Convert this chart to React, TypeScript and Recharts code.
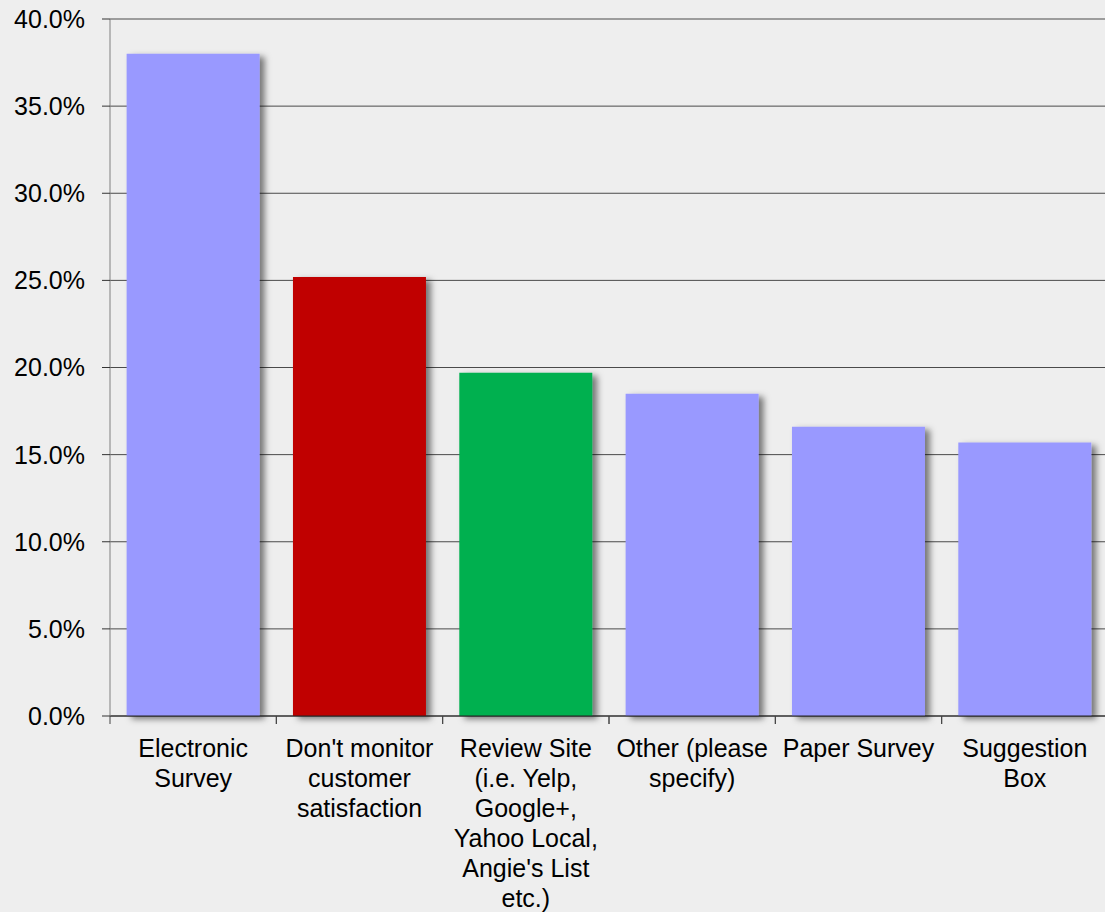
import { Bar, BarChart, CartesianGrid, Cell, Rectangle, XAxis, YAxis } from "recharts";

const categories = [
  "Electronic\nSurvey",
  "Don't monitor\ncustomer\nsatisfaction",
  "Review Site\n(i.e. Yelp,\nGoogle+,\nYahoo Local,\nAngie's List\netc.)",
  "Other (please\nspecify)",
  "Paper Survey",
  "Suggestion\nBox",
];
const shares = [38.0, 25.2, 19.7, 18.5, 16.6, 15.7];
const barColors = ["#9999ff", "#c00000", "#00b050", "#9999ff", "#9999ff", "#9999ff"];
const yTicks = [0, 5, 10, 15, 20, 25, 30, 35, 40];

const data = categories.map((name, i) => ({ name, value: shares[i] }));

const FONT = "'Liberation Sans', Arial, sans-serif";

function CategoryTick(props: any) {
  const { x, y, payload, width, visibleTicksCount } = props;
  const half = width / visibleTicksCount / 2;
  const lines = String(payload.value).split("\n");
  return (
    <g>
      <line x1={x - half} x2={x - half} y1={y - 8} y2={y} stroke="#444" />
      <line x1={x + half} x2={x + half} y1={y - 8} y2={y} stroke="#444" />
      <text x={x} y={y + 33} textAnchor="middle" fontSize={25} fill="#000" fontFamily={FONT}>
        {lines.map((l, i) => (
          <tspan key={i} x={x} dy={i === 0 ? 0 : 30}>
            {l}
          </tspan>
        ))}
      </text>
    </g>
  );
}

function ShadowBar(props: any) {
  return <Rectangle {...props} filter="url(#barShadow)" />;
}

export default function App() {
  return (
    <div
      style={{
        position: "absolute",
        left: 0,
        top: 0,
        width: 1105,
        height: 912,
        overflow: "hidden",
        background: "#eeeeee",
      }}
    >
      <BarChart
        width={1112}
        height={912}
        data={data}
        margin={{ top: 19, right: 4, bottom: 0, left: 0 }}
        barCategoryGap="10%"
      >
        <defs>
          <filter id="barShadow" x="-10%" y="-10%" width="130%" height="130%">
            <feDropShadow dx={5} dy={3} stdDeviation={3} floodColor="#000" floodOpacity={0.5} />
          </filter>
        </defs>
        <CartesianGrid vertical={false} stroke="#4a4a4a" strokeWidth={1} />
        <XAxis
          dataKey="name"
          interval={0}
          tickLine={false}
          axisLine={{ stroke: "#222" }}
          tick={<CategoryTick />}
          height={196}
        />
        <YAxis
          domain={[0, 40]}
          ticks={yTicks}
          width={110}
          tickSize={8}
          tickMargin={17}
          axisLine={{ stroke: "#808080" }}
          tickLine={{ stroke: "#333" }}
          tickFormatter={(v: number) => `${v.toFixed(1)}%`}
          tick={{ fontSize: 25, fill: "#000", fontFamily: FONT }}
          interval={0}
        />
        <Bar dataKey="value" isAnimationActive={false} shape={<ShadowBar />}>
          {data.map((_, i) => (
            <Cell key={i} fill={barColors[i]} />
          ))}
        </Bar>
      </BarChart>
    </div>
  );
}
